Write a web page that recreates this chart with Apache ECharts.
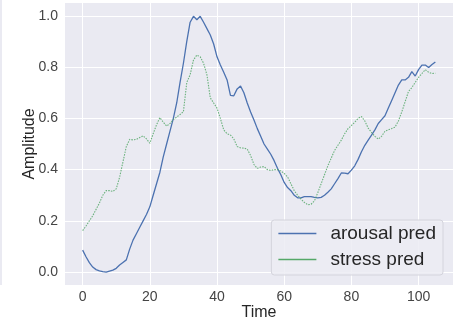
<!DOCTYPE html>
<html>
<head>
<meta charset="utf-8">
<script src="https://cdn.jsdelivr.net/npm/echarts@6/dist/echarts.min.js"></script>
<style>
  html, body { margin: 0; padding: 0; background: #ffffff; }
  #chart { width: 458px; height: 327px; }
</style>
</head>
<body>
<div id="chart"></div>
<script>
// Predicted signals, one sample per time step (t = 0 .. 105)
const arousalPred = [
  0.086, 0.060, 0.037, 0.020, 0.010, 0.005, 0.002, 0.000, 0.004, 0.008,
  0.015, 0.028, 0.038, 0.048, 0.090, 0.125, 0.150, 0.175, 0.200, 0.225,
  0.255, 0.300, 0.345, 0.390, 0.450, 0.500, 0.550, 0.600, 0.660, 0.740,
  0.815, 0.900, 0.975, 0.998, 0.985, 0.998, 0.975, 0.950, 0.925, 0.890,
  0.840, 0.808, 0.780, 0.750, 0.690, 0.688, 0.715, 0.726, 0.700, 0.660,
  0.625, 0.594, 0.560, 0.530, 0.500, 0.480, 0.460, 0.435, 0.405, 0.380,
  0.350, 0.330, 0.318, 0.300, 0.290, 0.290, 0.295, 0.295, 0.295, 0.292,
  0.290, 0.292, 0.300, 0.312, 0.325, 0.345, 0.365, 0.387, 0.386, 0.384,
  0.398, 0.415, 0.440, 0.470, 0.495, 0.515, 0.535, 0.555, 0.580, 0.595,
  0.610, 0.640, 0.670, 0.700, 0.730, 0.750, 0.750, 0.760, 0.782, 0.765,
  0.790, 0.808, 0.808, 0.798, 0.810, 0.820
];
const stressPred = [
  0.162, 0.180, 0.200, 0.220, 0.245, 0.270, 0.300, 0.318, 0.318, 0.315,
  0.325, 0.370, 0.430, 0.490, 0.518, 0.516, 0.518, 0.525, 0.532, 0.520,
  0.503, 0.540, 0.575, 0.603, 0.585, 0.570, 0.580, 0.595, 0.605, 0.615,
  0.626, 0.740, 0.770, 0.828, 0.847, 0.840, 0.815, 0.770, 0.680, 0.660,
  0.640, 0.600, 0.555, 0.540, 0.535, 0.520, 0.490, 0.485, 0.484, 0.480,
  0.455, 0.420, 0.405, 0.410, 0.412, 0.400, 0.397, 0.400, 0.400, 0.395,
  0.385, 0.372, 0.345, 0.318, 0.300, 0.285, 0.272, 0.263, 0.265, 0.278,
  0.310, 0.345, 0.380, 0.415, 0.445, 0.475, 0.495, 0.515, 0.540, 0.560,
  0.572, 0.585, 0.600, 0.607, 0.590, 0.562, 0.545, 0.530, 0.519, 0.530,
  0.550, 0.555, 0.560, 0.566, 0.590, 0.625, 0.665, 0.705, 0.720, 0.740,
  0.760, 0.775, 0.790, 0.780, 0.775, 0.776
];
const xTicks = [0, 20, 40, 60, 80, 100];
const yTicks = [0.0, 0.2, 0.4, 0.6, 0.8, 1.0];
const seriesNames = ['arousal pred', 'stress pred'];

const BLUE = '#4C72B0';
const GREEN = '#55A868';
const TEXT = '#262626';
const FONT = '"Liberation Sans", Arial, sans-serif';

const toPairs = arr => arr.map((v, i) => [i, v]);

const chart = echarts.init(document.getElementById('chart'), null, { renderer: 'canvas' });

chart.setOption({
  animation: false,
  backgroundColor: '#ffffff',
  textStyle: { fontFamily: FONT },
  graphic: [{
    type: 'rect',
    left: 0, top: 0,
    shape: { width: 2, height: 285 },
    style: { fill: '#EAEAF2' },
    silent: true
  }],
  grid: {
    left: 65, right: 5, top: 3, bottom: 42,
    show: true, backgroundColor: '#EAEAF2', borderWidth: 0
  },
  xAxis: {
    type: 'value',
    min: -5.25, max: 110.25,
    name: 'Time',
    nameLocation: 'middle',
    nameGap: 20,
    nameMoveOverlap: false,
    nameTextStyle: { fontSize: 16, color: TEXT, fontFamily: FONT },
    axisLine: { show: false },
    axisTick: { show: false, customValues: xTicks },
    axisLabel: {
      customValues: xTicks,
      fontSize: 14, color: '#444444', margin: 5, fontFamily: FONT,
      formatter: v => String(v)
    },
    splitLine: { show: true, lineStyle: { color: '#ffffff', width: 1 } }
  },
  yAxis: {
    type: 'value',
    min: -0.05, max: 1.05,
    name: 'Amplitude',
    nameLocation: 'middle',
    nameGap: 27,
    nameMoveOverlap: false,
    nameTextStyle: { fontSize: 16, color: TEXT, fontFamily: FONT },
    axisLine: { show: false },
    axisTick: { show: false, customValues: yTicks },
    axisLabel: {
      customValues: yTicks,
      fontSize: 14, color: '#444444', margin: 7, fontFamily: FONT,
      formatter: v => v.toFixed(1)
    },
    splitLine: { show: true, lineStyle: { color: '#ffffff', width: 1 } }
  },
  legend: {
    show: true,
    right: 15,
    bottom: 52,
    orient: 'vertical',
    icon: 'rect',
    itemWidth: 38,
    itemHeight: 1.5,
    itemGap: 7,
    padding: [4, 7, 6, 7],
    backgroundColor: 'rgba(236,236,243,0.85)',
    borderColor: '#d4d4dc',
    borderWidth: 1,
    borderRadius: 3,
    textStyle: { fontSize: 19, lineHeight: 19, color: TEXT, fontFamily: FONT, padding: [0, 0, 0, 9] },
    data: seriesNames
  },
  series: [
    {
      name: seriesNames[0],
      type: 'line',
      data: toPairs(arousalPred),
      showSymbol: false,
      lineStyle: { color: BLUE, width: 1.3 },
      itemStyle: { color: BLUE }
    },
    {
      name: seriesNames[1],
      type: 'line',
      data: toPairs(stressPred),
      showSymbol: false,
      lineStyle: { color: GREEN, width: 1.1, type: [1.5, 1.2], opacity: 0.85 },
      itemStyle: { color: GREEN }
    }
  ]
});
</script>
</body>
</html>
